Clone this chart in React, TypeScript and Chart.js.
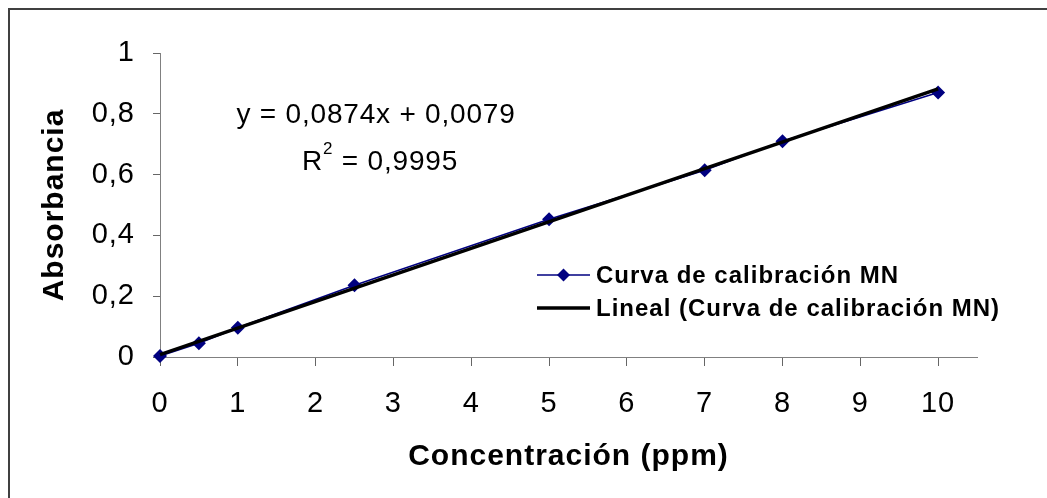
import React, { useEffect, useRef } from 'react';
import { Chart, registerables } from 'chart.js';

Chart.register(...registerables);

// ---- Data ----
const concentrations = [0, 0.5, 1, 2.5, 5, 7, 8, 10];
const absorbances = [0.003, 0.045, 0.096, 0.236, 0.453, 0.614, 0.71, 0.87];
const trendSlope = 0.0874;
const trendIntercept = 0.0079;
const trendRangeX = [0, 10];
const yTickLabels = ['0', '0,2', '0,4', '0,6', '0,8', '1'];
const xTickValues = [0, 1, 2, 3, 4, 5, 6, 7, 8, 9, 10];
const xTickLabels = ['0', '1', '2', '3', '4', '5', '6', '7', '8', '9', '10'];
const seriesName = 'Curva de calibración MN';
const trendName = 'Lineal (Curva de calibración MN)';
const equationText = 'y = 0,0874x + 0,0079';
const r2Value = '0,9995';
const xTitle = 'Concentración (ppm)';
const yTitle = 'Absorbancia';

const FONT = '"Liberation Sans", Arial, Helvetica, sans-serif';
const NAVY = '#000080';

const overlayPlugin = {
  id: 'overlay',
  beforeDraw(chart: any) {
    chart.ctx.letterSpacing = '1px';
  },
  afterDraw(chart: any) {
    const ctx = chart.ctx as CanvasRenderingContext2D;
    const ca = chart.chartArea;
    ctx.save();
    ctx.fillStyle = '#000';
    ctx.textBaseline = 'middle';

    // Trendline equation
    ctx.font = `28px ${FONT}`;
    (ctx as any).letterSpacing = '0.8px';
    ctx.textAlign = 'center';
    ctx.fillText(equationText, ca.left + 216, ca.top + 62);

    // R^2 line
    ctx.textAlign = 'left';
    const big = `28px ${FONT}`;
    const small = `17px ${FONT}`;
    const rest = ' = ' + r2Value;
    ctx.font = big;
    const wR = ctx.measureText('R').width;
    const wRest = ctx.measureText(rest).width;
    ctx.font = small;
    const w2 = ctx.measureText('2').width;
    const total = wR + w2 + wRest;
    let x = ca.left + 220 - total / 2;
    const yR = ca.top + 109;
    ctx.font = big;
    ctx.fillText('R', x, yR);
    x += wR;
    ctx.font = small;
    ctx.fillText('2', x, yR - 13);
    x += w2;
    ctx.font = big;
    ctx.fillText(rest, x, yR);

    // Legend
    const lx0 = ca.left + 377;
    const lx1 = ca.left + 430;
    const ly1 = ca.top + 222;
    const ly2 = ca.top + 255;
    ctx.strokeStyle = NAVY;
    ctx.lineWidth = 1.5;
    ctx.beginPath();
    ctx.moveTo(lx0, ly1);
    ctx.lineTo(lx1, ly1);
    ctx.stroke();
    const cx = (lx0 + lx1) / 2;
    const r = 6.5;
    ctx.fillStyle = NAVY;
    ctx.beginPath();
    ctx.moveTo(cx, ly1 - r);
    ctx.lineTo(cx + r, ly1);
    ctx.lineTo(cx, ly1 + r);
    ctx.lineTo(cx - r, ly1);
    ctx.closePath();
    ctx.fill();

    ctx.strokeStyle = '#000';
    ctx.lineWidth = 3.5;
    ctx.beginPath();
    ctx.moveTo(lx0, ly2);
    ctx.lineTo(lx1, ly2);
    ctx.stroke();

    ctx.fillStyle = '#000';
    ctx.font = `bold 24px ${FONT}`;
    (ctx as any).letterSpacing = '1px';
    ctx.fillText(seriesName, lx1 + 6, ly1 + 1);
    ctx.fillText(trendName, lx1 + 6, ly2 + 1);

    ctx.restore();
  },
};

export default function App() {
  const canvasRef = useRef<HTMLCanvasElement | null>(null);

  useEffect(() => {
    if (!canvasRef.current) return;
    const dataPoints = concentrations.map((c, i) => ({ x: c, y: absorbances[i] }));
    const trendPoints = trendRangeX.map((c) => ({ x: c, y: trendSlope * c + trendIntercept }));

    const chart = new Chart(canvasRef.current, {
      type: 'scatter',
      data: {
        datasets: [
          {
            label: trendName,
            data: trendPoints,
            showLine: true,
            borderColor: '#000',
            backgroundColor: '#000',
            borderWidth: 3.5,
            pointRadius: 0,
            order: 0,
            clip: false as any,
          },
          {
            label: seriesName,
            data: dataPoints,
            showLine: true,
            borderColor: NAVY,
            backgroundColor: NAVY,
            borderWidth: 1.5,
            pointStyle: 'rectRot',
            pointRadius: 7,
            pointBorderWidth: 0,
            order: 1,
            clip: false as any,
          },
        ],
      },
      options: {
        animation: false,
        responsive: true,
        maintainAspectRatio: false,
        layout: { padding: { top: 45, right: 62, left: 0, bottom: 0 } },
        plugins: {
          legend: { display: false },
          tooltip: { enabled: false },
        },
        scales: {
          x: {
            type: 'linear',
            min: 0,
            max: 10.5,
            afterBuildTicks: (scale: any) => {
              scale.ticks = xTickValues.map((v) => ({ value: v }));
            },
            afterFit: (scale: any) => {
              scale.height = 133;
            },
            ticks: {
              stepSize: 1,
              autoSkip: false,
              maxRotation: 0,
              minRotation: 0,
              padding: 21,
              color: '#000',
              font: { family: FONT, size: 29 },
              callback: (value: any) => {
                const i = xTickValues.indexOf(Number(value));
                return i >= 0 ? xTickLabels[i] : '';
              },
            },
            grid: {
              drawOnChartArea: false,
              drawTicks: true,
              tickLength: 9,
              color: '#666',
            },
            border: { display: true, color: '#808080', width: 1 },
            title: {
              display: true,
              text: xTitle,
              color: '#000',
              font: { family: FONT, size: 30, weight: 'bold' },
              padding: { top: 0, bottom: 15 },
            },
          },
          y: {
            type: 'linear',
            min: 0,
            max: 1,
            afterFit: (scale: any) => {
              scale.width = 152;
            },
            ticks: {
              stepSize: 0.2,
              padding: 18,
              color: '#000',
              font: { family: FONT, size: 29 },
              callback: (_value: any, index: number) => yTickLabels[index] ?? '',
            },
            grid: {
              drawOnChartArea: false,
              drawTicks: true,
              tickLength: 7,
              color: '#666',
            },
            border: { display: true, color: '#808080', width: 1 },
            title: {
              display: true,
              text: yTitle,
              color: '#000',
              font: { family: FONT, size: 30, weight: 'bold' },
              padding: { top: 29, bottom: 0 },
            },
          },
        },
      },
      plugins: [overlayPlugin],
    } as any);

    return () => {
      chart.destroy();
    };
  }, []);

  return (
    <div>
      <div style={{ position: 'relative', width: 1031, height: 482 }}>
        <canvas ref={canvasRef} />
      </div>
      <div
        style={{
          position: 'fixed',
          left: 8,
          top: 8,
          width: 2000,
          height: 2000,
          borderLeft: '2px solid #404040',
          borderTop: '2px solid #404040',
          pointerEvents: 'none',
        }}
      />
    </div>
  );
}
